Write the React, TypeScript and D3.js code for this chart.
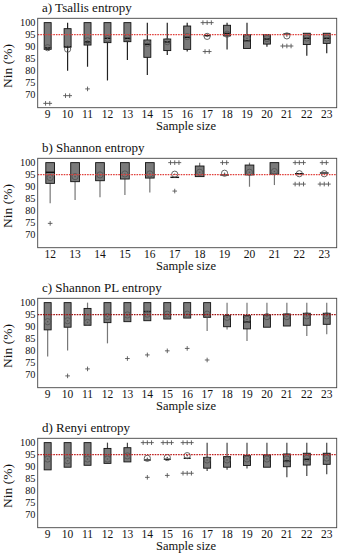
import * as d3 from 'd3'

const W = 345
const H = 560
const PANEL_H = 140
const M = { left: 37.7, right: 336.7, top: 18.3, bottom: 107.7 }
const yDomain: [number, number] = [64.7, 101.8]
const yTicks = [70, 75, 80, 85, 90, 95, 100]
const threshold = 95
const FONT = 'Liberation Serif, DejaVu Serif, Times New Roman, serif'

// a) Tsallis entropy
const tsallisSizes = [9, 10, 11, 12, 13, 14, 15, 16, 17, 18, 19, 20, 21, 22, 23]
const tsallisQ3 = [100, 97.5, 100, 100, 100, 92.8, 93.2, 98.6, null, 98.9, 95, 95, null, 95.6, 95.6]
const tsallisQ1 = [88.9, 89.8, 90.7, 91.7, 92.1, 85.6, 88.4, 88.9, null, 94.5, 89.3, 91.1, null, 90.9, 91.4]
const tsallisMedian = [89.5, 90, 92, 93.5, 93.5, 91, 92, 93.9, 94.6, 95.5, 92.5, 93.2, 95.3, 93.5, 93.5]
const tsallisMean = [89.6, 89, 92.5, 93.4, 93.8, 91.4, 92.1, 94.2, 94.3, 95.2, 93.5, 93.4, 94.5, 93.6, 93.6]
const tsallisHigh = [100, 100, 100, 100, 100, 100, 100, 100, null, 100, 100, 95, null, 95.6, 95.6]
const tsallisLow = [88.9, 80, 81.7, 76, 84.5, 78.3, 86.6, 88, null, 88.9, 89.3, 90, null, 86.3, 87.3]
const tsallisOutliers = [[66.5, 66.5], [69.7, 69.7], [72.5], [], [], [], [], [], [100, 100, 100, 88, 88], [], [], [], [90.3, 90.3, 90.3], [], []]

// b) Shannon entropy
const shannonSizes = [12, 13, 14, 15, 16, 17, 18, 19, 20, 21, 22, 23]
const shannonQ3 = [100, 100, 100, 100, 100, null, 98.6, null, 99, 100, null, null]
const shannonQ1 = [91.4, 92.1, 92.5, 93.2, 93.6, null, 94.2, null, 94.9, 95.2, null, null]
const shannonMedian = [96, 100, 100, 100, 100, 93.9, 98.6, 94.9, 99, 100, 95.4, 95.7]
const shannonMean = [93.8, 94.2, 94.9, 95.3, 95.3, 95.2, 96, 95.6, 96, 96.3, 95.4, 95.4]
const shannonHigh = [100, 100, 100, 100, 100, null, 100, null, 100, 100, null, null]
const shannonLow = [83.1, 84.5, 85.6, 86.6, 87.6, null, 94.2, null, 90, 90.7, null, null]
const shannonOutliers = [[74.8], [], [], [], [], [100, 100, 100, 88.2], [], [100, 100], [], [], [100, 100, 100, 91.1, 91.1, 91.1], [100, 100, 91.1, 91.1, 91.1]]

// c) Shannon PL entropy
const plSizes = [9, 10, 11, 12, 13, 14, 15, 16, 17, 18, 19, 20, 21, 22, 23]
const plQ3 = [100, 100, 97.6, 100, 100, 100, 100, 100, 100, 94.6, 94.6, 94.9, 95.3, 95.6, 95.6]
const plQ1 = [88.7, 89.8, 90.6, 91.7, 92.1, 92.5, 93.2, 93.6, 93.9, 90, 89.1, 89.8, 90.3, 90.6, 91]
const plMedian = [100, 100, 97.6, 100, 100, 96.3, 100, 100, 100, 94.6, 92, 94.9, 95.3, 95.6, 95.6]
const plMean = [92.1, 92.5, 91.8, 94.2, 94.9, 95.2, 95.2, 95.2, 95.2, 93.9, 93.1, 94.2, 94.2, 94.5, 94.5]
const plHigh = [100, 100, 100, 100, 100, 100, 100, 100, 100, 100, 100, 100, 100, 100, 100]
const plLow = [77.6, 80.1, 90.6, 83.1, 92.1, 92.5, 93.2, 93.6, 88.2, 88.9, 84.1, 89.8, 90.3, 86.2, 86.9]
const plOutliers = [[], [69.6], [72.5], [], [76.8], [78.3], [80], [81], [76.2], [], [], [], [], [], []]

// d) Renyi entropy
const renyiSizes = [9, 10, 11, 12, 13, 14, 15, 16, 17, 18, 19, 20, 21, 22, 23]
const renyiQ3 = [100, 100, 100, 97.6, 97.9, null, null, null, 93.9, 94.2, 94.6, 94.9, 95.3, 95.6, 95.6]
const renyiQ1 = [88.7, 89.8, 90.6, 91.4, 92, null, null, null, 89.4, 89.8, 90.5, 89.8, 90, 90.7, 91]
const renyiMedian = [100, 100, 100, 97.6, 97.9, 92.8, 93.1, 93.5, 93.9, 94.2, 94.6, 94.9, 92.4, 93.1, 95.6]
const renyiMean = [93.2, 92.5, 93.2, 93.2, 94.5, 93.5, 93.8, 94.6, 92.8, 92.8, 93.2, 93.2, 93.2, 93.5, 93.6]
const renyiHigh = [100, 100, 100, 100, 100, null, null, null, 100, 100, 100, 100, 100, 100, 100]
const renyiLow = [88.7, 89.8, 90.6, 91.4, 92, null, null, null, 88.2, 88.7, 89.3, 89.8, 85.6, 86.2, 86.9]
const renyiOutliers = [[], [], [], [], [], [100, 100, 100, 85.6], [100, 100, 100, 86.4], [100, 100, 100, 87.3, 87.3, 87.3], [], [], [], [], [], [], []]

type N = number | null
interface PanelProps {
  title: string
  sizes: number[]
  q1: N[]
  q3: N[]
  median: number[]
  mean: number[]
  high: N[]
  low: N[]
  outliers: number[][]
  offset: number
  whisker: string
  refColor: string
}

const Plus = ({ cx, cy }: { cx: number; cy: number }) => (
  <path d={`M${cx - 2.3},${cy}H${cx + 2.3}M${cx},${cy - 2.3}V${cy + 2.3}`} stroke="#555" strokeWidth={0.9} />
)

const Panel = (p: PanelProps) => {
  const x = d3.scalePoint<number>().domain(p.sizes).range([M.left, M.right]).padding(0.5)
  const y = d3.scaleLinear().domain(yDomain).range([M.bottom, M.top])
  const bw = x.step() * 0.35

  return (
    <g transform={`translate(0,${p.offset})`} fontFamily={FONT} fill="#111">
      <text x={42} y={11.5} fontSize={13}>{p.title}</text>

      {/* boxes */}
      {p.sizes.map((s, i) => {
        const cx = x(s) as number
        const q1 = p.q1[i], q3 = p.q3[i], hi = p.high[i], lo = p.low[i]
        const med = p.median[i]
        return (
          <g key={s}>
            {hi != null && q3 != null && hi > q3 && (
              <line x1={cx} x2={cx} y1={y(q3)} y2={y(hi)} stroke={p.whisker} strokeWidth={1.2} />
            )}
            {lo != null && q1 != null && lo < q1 && (
              <line x1={cx} x2={cx} y1={y(q1)} y2={y(lo)} stroke={p.whisker} strokeWidth={1.2} />
            )}
            {q1 != null && q3 != null && (
              <rect x={cx - bw / 2} y={y(q3)} width={bw} height={y(q1) - y(q3)} fill="#7a7a7a" stroke="#111" strokeWidth={0.9} />
            )}
            {med !== q3 && (
              <line x1={cx - bw / 2} x2={cx + bw / 2} y1={y(med)} y2={y(med)} stroke="#111" strokeWidth={1.4} />
            )}
            <circle cx={cx} cy={y(p.mean[i])} r={3.1} fill="none" stroke="#555" strokeWidth={0.9} />
            <circle cx={cx} cy={y(p.mean[i])} r={0.8} fill="#555" />
            {p.outliers[i].map((v, j) => {
              const same = p.outliers[i].filter(o => o === v)
              const k = p.outliers[i].slice(0, j).filter(o => o === v).length
              const dx = (k - (same.length - 1) / 2) * 4.2
              return <Plus key={j} cx={cx + dx} cy={y(v)} />
            })}
          </g>
        )
      })}

      {/* 95% reference */}
      <line x1={M.left} x2={M.right} y1={y(threshold)} y2={y(threshold)} stroke={p.refColor} strokeWidth={1.3} strokeDasharray="1.6,1" />

      {/* frame */}
      <rect x={M.left} y={M.top} width={M.right - M.left} height={M.bottom - M.top} fill="none" stroke="#444" strokeWidth={0.9} />

      {yTicks.map(t => (
        <text key={t} x={35.5} y={y(t)} dy="0.34em" textAnchor="end" fontSize={10.3}>{t}</text>
      ))}
      {p.sizes.map(s => (
        <text key={s} x={x(s)} y={117.5} textAnchor="middle" fontSize={11.5}>{s}</text>
      ))}
      <text transform={`translate(12,66) rotate(-90)`} textAnchor="middle" fontSize={13.5}>Nin (%)</text>
      <text x={186} y={129.5} textAnchor="middle" fontSize={12.5}>Sample size</text>
    </g>
  )
}

export default function App() {
  return (
    <svg width={W} height={H} style={{ position: 'absolute', left: 0, top: 0, background: '#fff' }}>
      <rect width={W} height={H} fill="#fff" />
      <Panel title="a) Tsallis entropy" sizes={tsallisSizes} q1={tsallisQ1} q3={tsallisQ3} median={tsallisMedian}
        mean={tsallisMean} high={tsallisHigh} low={tsallisLow} outliers={tsallisOutliers} offset={0}
        whisker="#222" refColor="#e0403c" />
      <Panel title="b) Shannon entropy" sizes={shannonSizes} q1={shannonQ1} q3={shannonQ3} median={shannonMedian}
        mean={shannonMean} high={shannonHigh} low={shannonLow} outliers={shannonOutliers} offset={PANEL_H}
        whisker="#777" refColor="#e0403c" />
      <Panel title="c) Shannon PL entropy" sizes={plSizes} q1={plQ1} q3={plQ3} median={plMedian}
        mean={plMean} high={plHigh} low={plLow} outliers={plOutliers} offset={PANEL_H * 2}
        whisker="#777" refColor="#a01010" />
      <Panel title="d) Renyi entropy" sizes={renyiSizes} q1={renyiQ1} q3={renyiQ3} median={renyiMedian}
        mean={renyiMean} high={renyiHigh} low={renyiLow} outliers={renyiOutliers} offset={PANEL_H * 3}
        whisker="#444" refColor="#c02020" />
    </svg>
  )
}
